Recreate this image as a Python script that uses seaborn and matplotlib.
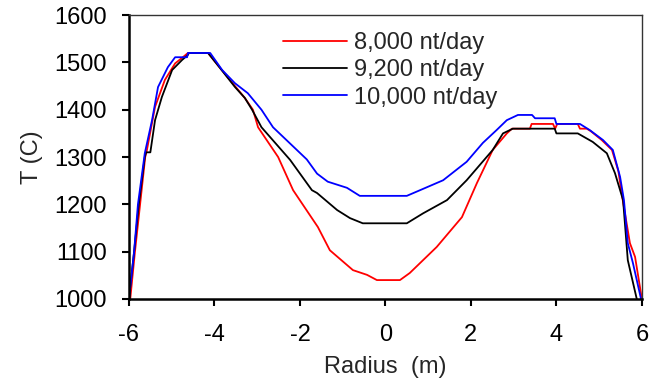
import numpy as np
import pandas as pd
import matplotlib
matplotlib.use("Agg")
import matplotlib.pyplot as plt
import seaborn as sns

# Temperature profiles across the radius
r_8000 = [-5.97, -5.86, -5.74, -5.62, -5.58, -5.39, -5.16, -4.92, -4.74, -4.62,
          -4.15, -3.92, -3.52, -3.29, -3.10, -2.98, -2.51, -2.16, -1.58, -1.30,
          -0.76, -0.43, -0.20, 0.34, 0.57, 1.20, 1.79, 2.14, 2.51, 2.84,
          2.96, 3.38, 3.42, 3.92, 3.97, 4.02, 4.50, 4.55, 4.71, 4.80,
          5.06, 5.30, 5.45, 5.55, 5.72, 5.84, 6.00]
t_8000 = [1000, 1100, 1200, 1300, 1315, 1406, 1463, 1498, 1511, 1520,
          1520, 1494, 1450, 1425, 1400, 1363, 1300, 1230, 1152, 1103,
          1061, 1051, 1040, 1040, 1055, 1110, 1173, 1245, 1315, 1350,
          1360, 1360, 1370, 1370, 1360, 1370, 1370, 1360, 1360, 1355,
          1336, 1315, 1270, 1210, 1118, 1089, 1000]

r_9200 = [-6.00, -5.88, -5.77, -5.63, -5.60, -5.50, -5.39, -5.23, -4.99, -4.76,
          -4.62, -4.60, -4.15, -3.92, -3.52, -3.29, -3.12, -2.90, -2.23, -1.72,
          -1.60, -1.13, -0.83, -0.53, 0.50, 0.88, 1.44, 1.90, 2.51, 2.75,
          2.98, 3.96, 4.00, 4.50, 4.85, 5.18, 5.37, 5.56, 5.67, 5.88]
t_9200 = [1000, 1100, 1200, 1300, 1310, 1310, 1378, 1427, 1484, 1505,
          1516, 1520, 1520, 1494, 1448, 1425, 1400, 1363, 1294, 1230,
          1224, 1188, 1171, 1160, 1160, 1181, 1209, 1251, 1315, 1350,
          1360, 1360, 1350, 1350, 1332, 1308, 1266, 1209, 1082, 1000]

r_10000 = [-6.00, -5.88, -5.79, -5.63, -5.46, -5.32, -5.09, -4.92, -4.64, -4.62,
           -4.10, -3.82, -3.52, -3.22, -2.90, -2.63, -1.84, -1.60, -1.35, -0.90,
           -0.60, 0.50, 0.81, 1.35, 1.90, 2.28, 2.60, 2.84, 3.10, 3.43,
           3.50, 3.96, 4.00, 4.55, 4.78, 5.09, 5.32, 5.49, 5.58, 5.67,
           5.79, 5.98]
t_10000 = [1000, 1100, 1200, 1308, 1378, 1448, 1490, 1511, 1511, 1520,
           1520, 1484, 1456, 1435, 1400, 1363, 1295, 1265, 1248, 1235,
           1218, 1218, 1230, 1251, 1290, 1330, 1357, 1378, 1389, 1389,
           1382, 1382, 1370, 1370, 1357, 1336, 1315, 1258, 1209, 1118,
           1076, 1000]

labels = ["8,000 nt/day", "9,200 nt/day", "10,000 nt/day"]
colors = ["#ff0000", "#000000", "#0000ff"]

frames = []
for lab, r, t in zip(labels, [r_8000, r_9200, r_10000], [t_8000, t_9200, t_10000]):
    frames.append(pd.DataFrame({"Radius": r, "T": t, "rate": lab}))
df = pd.concat(frames, ignore_index=True)

sns.set_style("ticks")
plt.rcParams["font.family"] = ["Liberation Sans", "DejaVu Sans"]
plt.rcParams["axes.unicode_minus"] = False

fig = plt.figure(figsize=(6.53, 3.78), dpi=100)
ax = fig.add_axes([0.1975, 0.209, 0.7855, 0.751])

sns.lineplot(data=df, x="Radius", y="T", hue="rate", palette=colors,
             hue_order=labels, sort=False, estimator=None, linewidth=1.3, ax=ax)

ax.set_xlim(-6, 6)
ax.set_ylim(1000, 1600)
ax.set_xticks(np.arange(-6, 7, 2))
ax.set_yticks(np.arange(1000, 1601, 100))
ax.tick_params(labelsize=17, length=5, width=1.5, direction="out", colors="black")
ax.tick_params(axis="x", pad=13)
ax.tick_params(axis="y", pad=11)
ax.set_xlabel("Radius  (m)", fontsize=17, labelpad=7)
ax.set_ylabel("T (C)", fontsize=17, labelpad=8)

for side in ["left", "bottom"]:
    ax.spines[side].set_linewidth(1.8)
    ax.spines[side].set_color("black")
for side in ["top", "right"]:
    ax.spines[side].set_visible(True)
    ax.spines[side].set_linewidth(1.0)
    ax.spines[side].set_color("#333333")

ax.legend(loc="upper left", bbox_to_anchor=(0.30, 0.94), frameon=False,
          fontsize=17, handlelength=2.7, handletextpad=0.3, labelspacing=0.22,
          borderpad=0, borderaxespad=0, title=None)

fig.savefig("out.png", dpi=100)
